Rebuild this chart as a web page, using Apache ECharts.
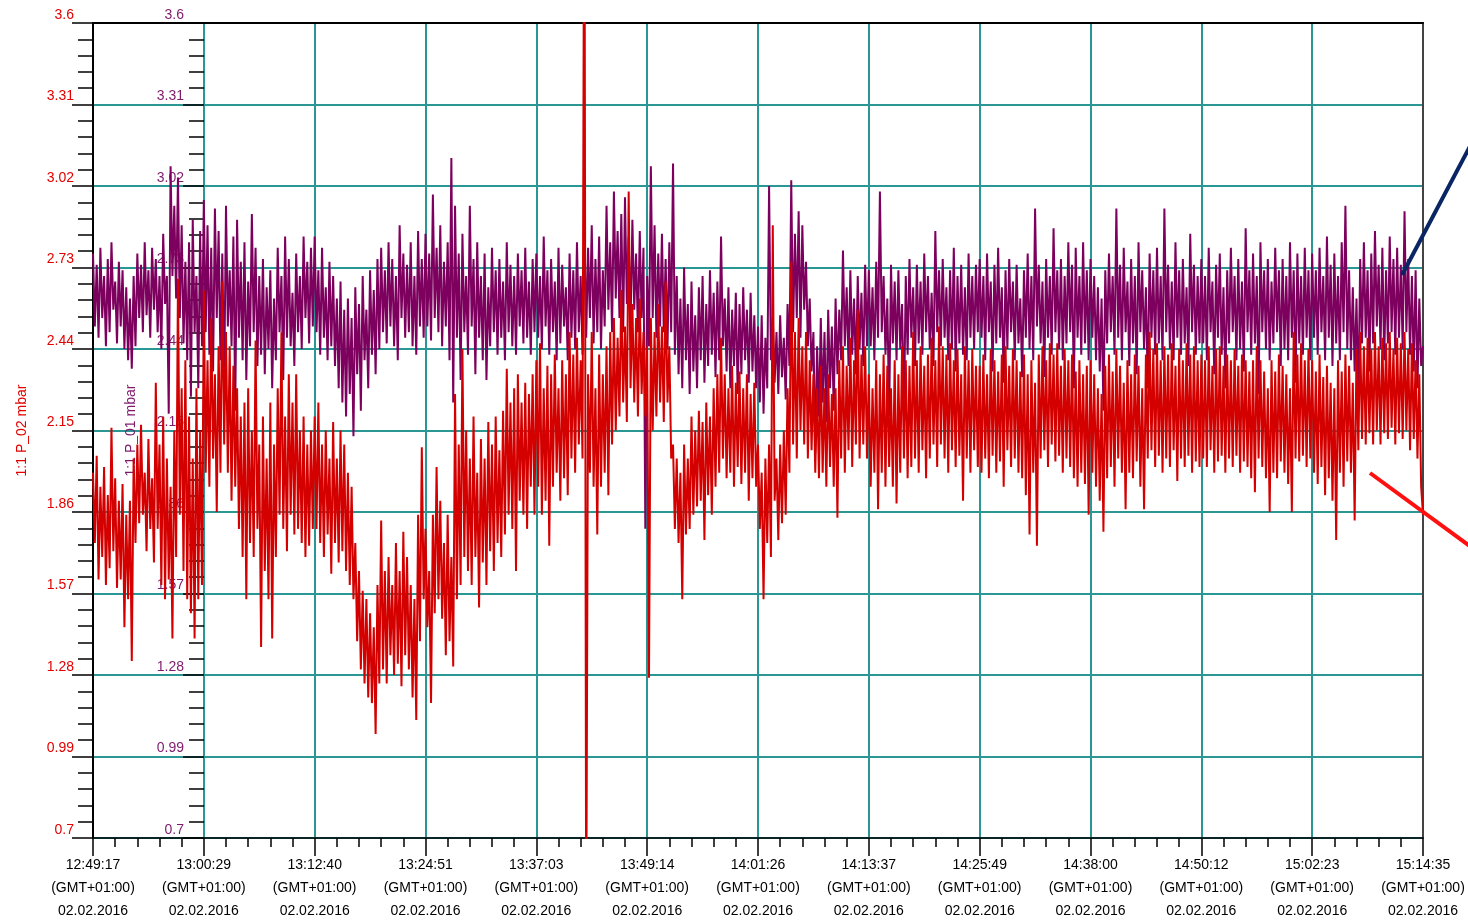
<!DOCTYPE html>
<html>
<head>
<meta charset="utf-8">
<script src="https://cdn.jsdelivr.net/npm/echarts@6/dist/echarts.min.js"></script>
<style>
html,body{margin:0;padding:0;background:#fff;}
#chart{width:1468px;height:923px;}
</style>
</head>
<body>
<div id="chart"></div>
<script>
// x tick labels (one per major tick)
const timeLabels = ["12:49:17","13:00:29","13:12:40","13:24:51","13:37:03","13:49:14","14:01:26","14:13:37","14:25:49","14:38:00","14:50:12","15:02:23","15:14:35"];
const zoneLabel = "(GMT+01:00)";
const dateLabel = "02.02.2016";
const samplesPerTick = 60;

// 1:1 P_01 mbar (purple), 60 samples per labelled interval
const p01 = [
2.78,2.52,2.74,2.48,2.80,2.55,2.70,2.45,2.76,2.50,2.82,2.58,2.68,2.46,2.75,2.52,2.72,2.44,2.66,2.40,2.62,2.37,2.70,2.45,2.78,2.55,2.74,2.50,2.82,2.56,2.72,2.48,2.80,2.58,2.76,2.50,2.70,2.44,2.85,2.60,2.70,2.21,3.09,2.70,2.95,2.62,3.05,2.55,2.88,2.46,2.75,2.40,2.82,2.27,2.90,2.50,2.70,2.30,2.86,2.45,
2.97,2.50,2.88,2.42,2.80,2.36,2.94,2.55,2.86,2.40,2.78,2.30,2.95,2.52,2.72,2.45,2.84,2.22,2.90,2.48,2.75,2.40,2.82,2.33,2.68,2.45,2.92,2.50,2.80,2.38,2.70,2.42,2.76,2.35,2.66,2.44,2.72,2.30,2.62,2.40,2.80,2.50,2.70,2.33,2.84,2.48,2.76,2.45,2.64,2.38,2.78,2.50,2.70,2.44,2.84,2.55,2.75,2.46,2.80,2.52,
2.84,2.50,2.72,2.42,2.80,2.48,2.66,2.40,2.75,2.45,2.70,2.38,2.62,2.30,2.68,2.25,2.58,2.20,2.62,2.28,2.55,2.13,2.66,2.35,2.60,2.22,2.70,2.40,2.58,2.30,2.72,2.42,2.65,2.35,2.76,2.44,2.80,2.50,2.72,2.46,2.82,2.52,2.76,2.45,2.70,2.40,2.88,2.55,2.78,2.48,2.74,2.50,2.82,2.45,2.70,2.42,2.86,2.52,2.76,2.48,
2.85,2.52,2.78,2.47,2.99,2.55,2.80,2.50,2.88,2.45,2.75,2.52,2.82,2.40,3.12,2.25,2.95,2.48,2.78,2.33,2.85,2.50,2.70,2.42,2.95,2.52,2.76,2.35,2.82,2.48,2.70,2.40,2.78,2.33,2.66,2.45,2.80,2.50,2.72,2.42,2.76,2.48,2.68,2.40,2.82,2.50,2.74,2.45,2.70,2.42,2.78,2.52,2.72,2.46,2.80,2.48,2.68,2.42,2.76,2.50,
2.78,2.48,2.70,2.44,2.84,2.52,2.72,2.42,2.76,2.50,2.68,2.40,2.80,2.46,2.74,2.52,2.66,2.40,2.78,2.48,2.72,2.44,2.82,2.50,2.70,2.42,2.90,2.48,2.80,2.55,2.88,2.46,2.76,2.50,2.84,2.44,2.72,2.52,2.95,2.58,2.82,2.50,3.00,2.62,2.86,2.55,2.92,2.50,2.98,2.60,2.84,2.52,2.90,2.58,2.78,2.50,2.86,2.55,2.80,1.80,
2.70,2.45,3.09,2.55,2.88,2.48,2.78,2.52,2.85,2.50,2.76,2.44,2.82,2.50,3.10,2.42,2.70,2.35,2.62,2.30,2.73,2.40,2.60,2.28,2.68,2.36,2.56,2.30,2.66,2.40,2.70,2.32,2.60,2.38,2.72,2.42,2.64,2.34,2.68,2.40,2.84,2.45,2.62,2.36,2.66,2.30,2.58,2.38,2.64,2.28,2.60,2.35,2.66,2.40,2.58,2.32,2.64,2.36,2.56,2.30,
2.52,2.25,2.56,2.21,2.48,2.30,3.02,2.40,2.55,2.32,2.50,2.28,2.56,2.34,2.48,2.26,2.60,2.38,3.04,2.50,2.85,2.55,2.93,2.48,2.88,2.58,2.75,2.45,2.62,2.36,2.50,2.07,2.45,2.20,2.55,2.25,2.50,2.18,2.58,2.30,2.52,2.22,2.62,2.35,2.58,2.40,2.79,2.45,2.66,2.38,2.72,2.42,2.62,2.35,2.70,2.44,2.64,2.38,2.74,2.45,
2.72,2.45,2.66,2.40,2.75,2.48,3.00,2.50,2.70,2.42,2.62,2.20,2.74,2.46,2.68,2.40,2.72,2.44,2.60,2.20,2.70,2.42,2.76,2.48,2.66,2.38,2.74,2.46,2.68,2.42,2.78,2.50,2.70,2.44,2.64,2.38,2.86,2.50,2.72,2.45,2.76,2.48,2.66,2.40,2.72,2.44,2.80,2.36,2.70,2.46,2.74,2.42,2.66,2.40,2.78,2.48,2.70,2.44,2.74,2.50,
2.76,2.48,2.70,2.40,2.78,2.50,2.68,2.36,2.74,2.46,2.80,2.48,2.66,2.32,2.72,2.44,2.76,2.50,2.68,2.40,2.74,2.46,2.62,2.34,2.72,2.48,2.78,2.44,2.70,2.40,2.94,2.52,2.74,2.46,2.68,2.34,2.76,2.48,2.70,2.42,2.87,2.50,2.72,2.44,2.76,2.40,2.70,2.46,2.82,2.50,2.74,2.30,2.80,2.48,2.70,2.42,2.82,2.46,2.72,2.40,
2.76,2.48,2.70,2.40,2.66,2.36,2.62,2.22,2.72,2.46,2.78,2.50,2.70,2.42,2.94,2.48,2.74,2.40,2.80,2.50,2.68,2.38,2.76,2.46,2.70,2.35,2.82,2.50,2.72,2.44,2.66,2.30,2.78,2.48,2.72,2.42,2.80,2.46,2.70,2.40,2.94,2.50,2.74,2.44,2.68,2.40,2.82,2.48,2.72,2.42,2.76,2.46,2.66,2.38,2.85,2.50,2.74,2.42,2.70,2.46,
2.76,2.46,2.70,2.40,2.80,2.50,2.68,2.35,2.74,2.48,2.78,2.42,2.66,2.30,2.72,2.46,2.80,2.50,2.70,2.40,2.76,2.44,2.68,2.36,2.87,2.50,2.72,2.42,2.78,2.46,2.70,2.28,2.82,2.50,2.72,2.44,2.76,2.40,2.68,2.46,2.80,2.50,2.72,2.38,2.76,2.44,2.70,2.40,2.82,2.48,2.72,2.32,2.78,2.46,2.70,2.42,2.80,2.48,2.72,2.40,
2.78,2.48,2.72,2.42,2.80,2.50,2.70,2.40,2.84,2.48,2.74,2.38,2.78,2.46,2.70,2.40,2.82,2.50,2.95,2.44,2.72,2.40,2.66,2.36,2.62,2.25,2.76,2.46,2.82,2.48,2.72,2.36,2.78,2.46,2.86,2.52,2.74,2.44,2.80,2.40,2.72,2.46,2.84,2.50,2.76,2.42,2.80,2.48,2.74,2.44,2.93,2.50,2.76,2.42,2.70,2.36,2.72,2.30,2.62,2.38,
2.45
];

// 1:1 P_02 mbar (red), 60 samples per labelled interval
const p02 = [
2.00,1.75,2.06,1.62,1.95,1.70,2.02,1.60,1.92,1.66,2.16,1.72,1.98,1.59,1.90,1.62,1.96,1.45,1.85,1.55,1.90,1.33,2.05,1.75,2.10,1.82,2.17,1.85,2.00,1.72,2.12,1.80,1.98,1.68,2.32,1.80,2.10,1.60,2.20,1.55,2.05,1.62,1.95,1.41,2.15,1.70,2.69,1.85,2.30,1.65,2.40,1.55,2.20,1.50,2.05,1.41,2.30,1.55,2.15,1.60,
2.65,2.00,2.40,1.95,2.55,2.05,2.35,1.86,2.45,2.00,2.68,2.10,2.50,2.00,2.45,1.90,2.38,1.95,2.30,1.80,2.20,1.70,2.25,1.55,2.30,1.75,2.15,1.70,2.47,1.80,2.10,1.38,2.20,1.65,2.05,1.55,2.25,1.41,2.10,1.70,2.30,1.85,2.50,1.80,2.20,1.72,2.35,1.85,2.25,1.78,2.35,1.80,2.15,1.75,2.20,1.70,2.10,1.74,2.15,1.80,
2.20,1.80,2.25,1.75,2.10,1.70,2.15,1.78,2.05,1.64,2.18,1.75,2.05,1.68,2.15,1.72,2.10,1.65,2.00,1.60,1.95,1.55,1.75,1.40,1.65,1.30,1.58,1.25,1.55,1.20,1.50,1.18,1.45,1.07,1.60,1.25,1.83,1.30,1.65,1.25,1.70,1.35,1.60,1.28,1.75,1.32,1.65,1.24,1.79,1.35,1.70,1.30,1.60,1.20,1.55,1.12,1.85,1.40,2.09,1.55,
1.80,1.45,1.65,1.18,1.85,1.50,2.02,1.55,1.90,1.48,1.75,1.35,1.85,1.40,1.70,1.31,2.28,1.55,2.10,1.60,2.44,1.70,2.15,1.65,2.05,1.60,2.20,1.70,2.00,1.52,2.12,1.68,2.05,1.60,2.18,1.72,2.10,1.65,2.20,1.75,2.08,1.70,2.22,1.78,2.37,1.85,2.25,1.80,2.30,1.65,2.35,1.90,2.25,1.85,2.32,1.80,2.28,1.95,2.35,1.85,
2.40,1.95,2.46,1.85,2.30,1.90,2.38,1.74,2.35,1.95,2.42,2.00,2.30,1.90,2.40,1.98,2.35,1.92,2.50,2.05,2.42,2.00,2.48,2.10,2.40,2.05,4.50,0.30,2.35,2.00,2.50,1.95,2.30,1.78,2.42,1.95,2.35,2.00,2.45,1.92,2.50,2.10,2.55,2.15,2.48,2.20,2.65,2.25,2.52,2.18,3.00,2.30,2.60,2.25,2.55,2.20,2.62,2.28,2.50,2.20,
2.45,1.27,2.55,2.15,2.50,2.20,2.60,2.25,2.52,2.18,2.68,2.25,2.45,2.05,2.10,1.80,2.05,1.75,2.00,1.55,2.10,1.78,2.05,1.80,2.20,1.85,2.15,1.88,2.22,1.90,2.18,1.76,2.25,1.92,2.20,1.85,2.30,1.95,2.35,2.00,2.48,2.05,2.35,1.98,2.30,2.00,2.38,1.95,2.32,2.02,2.36,1.96,2.30,2.00,2.35,1.90,2.28,1.98,2.32,1.95,
2.10,1.80,2.00,1.55,2.05,1.75,2.10,1.70,2.88,1.90,2.05,1.76,2.10,1.82,2.15,1.85,2.30,2.00,2.75,2.10,2.50,2.05,2.55,2.15,2.45,2.10,2.50,2.05,2.40,2.08,2.35,2.00,2.30,1.98,2.38,2.00,2.30,1.95,2.35,2.02,2.28,1.95,2.30,1.84,2.40,2.05,2.45,2.00,2.38,2.08,2.48,2.02,2.40,2.10,2.58,2.05,2.42,2.10,2.45,2.05,
2.35,1.95,2.30,2.00,2.40,1.87,2.35,2.00,2.42,1.95,2.38,2.02,2.30,1.95,2.40,1.89,2.35,2.00,2.45,2.05,2.40,1.98,2.38,2.02,2.50,2.05,2.40,2.00,2.45,2.08,2.38,1.98,2.42,2.05,2.48,2.10,2.40,2.02,2.52,2.10,2.45,2.05,2.42,2.00,2.46,2.08,2.40,2.02,2.44,2.06,2.35,1.90,2.45,2.05,2.40,2.00,2.44,2.08,2.38,2.02,
2.38,2.00,2.42,2.05,2.35,1.98,2.44,2.06,2.40,2.00,2.36,2.04,2.42,1.95,2.45,2.08,2.38,2.02,2.44,2.05,2.40,2.00,2.36,1.98,2.42,1.92,2.35,1.78,2.40,2.00,2.32,1.74,2.42,2.05,2.45,2.08,2.40,2.02,2.46,2.10,2.42,2.04,2.46,2.06,2.38,2.00,2.44,2.05,2.40,2.02,2.42,1.98,2.36,1.95,2.40,2.00,2.35,1.96,2.38,1.85,
2.40,2.00,2.35,1.95,2.30,1.90,2.28,1.79,2.38,1.98,2.42,2.02,2.36,1.95,2.44,2.05,2.38,2.00,2.32,1.87,2.40,2.00,2.35,1.98,2.42,2.04,2.38,1.95,2.30,1.87,2.42,2.05,2.50,2.08,2.44,2.02,2.46,2.06,2.40,2.00,2.45,2.05,2.42,2.02,2.46,2.08,2.38,1.97,2.44,2.05,2.40,2.02,2.46,2.06,2.42,2.00,2.45,2.04,2.40,2.02,
2.42,2.05,2.40,2.02,2.45,2.08,2.38,2.00,2.44,2.04,2.45,2.06,2.38,2.00,2.42,2.05,2.40,2.02,2.44,2.06,2.38,2.00,2.42,2.04,2.40,2.02,2.36,1.98,2.40,1.93,2.45,2.05,2.40,2.02,2.36,1.98,2.30,1.86,2.40,2.00,2.36,1.98,2.42,2.04,2.38,2.00,2.35,1.96,2.30,1.86,2.50,2.05,2.42,2.04,2.46,2.06,2.40,2.02,2.44,2.05,
2.40,2.00,2.36,1.96,2.42,2.02,2.34,1.92,2.38,1.98,2.32,1.90,2.30,1.76,2.40,2.00,2.36,1.95,2.42,2.04,2.38,2.00,2.32,1.83,2.44,2.08,2.50,2.12,2.45,2.10,2.48,2.14,2.44,2.10,2.50,2.15,2.45,2.10,2.48,2.14,2.46,2.12,2.50,2.16,2.44,2.10,2.48,2.14,2.46,2.12,2.50,2.15,2.44,2.08,2.46,2.12,2.40,2.05,2.35,1.95,
1.85
];

const yMin = 0.7, yMax = 3.6, yStep = 0.29;

const toXY = arr => arr.map((v, i) => [i / samplesPerTick, v]);

const RED = '#d40000';
const PURPLE = '#7d005e';
const TEAL = '#2b9794';
const LABEL_RED = '#e30000';
const LABEL_PURPLE = '#7e1a6c';
const FONT = 'Liberation Sans, Arial, sans-serif';

const chart = echarts.init(document.getElementById('chart'), null, {renderer: 'canvas'});
chart.setOption({
  animation: false,
  backgroundColor: '#ffffff',
  grid: {left: 93, right: 45, top: 23, bottom: 84, containLabel: false},
  xAxis: [{
    type: 'value', min: 0, max: timeLabels.length - 1, interval: 1,
    position: 'bottom',
    axisLine: {show: true, onZero: false, lineStyle: {color: '#000', width: 1.5}},
    axisTick: {show: true, length: 18, lineStyle: {color: '#000', width: 1.5}},
    minorTick: {show: true, splitNumber: 5, length: 9, lineStyle: {color: '#000', width: 1.5}},
    axisLabel: {
      margin: 16, color: '#000', fontFamily: FONT, fontSize: 14, lineHeight: 23,
      formatter: v => timeLabels[Math.round(v)] + '\n' + zoneLabel + '\n' + dateLabel
    },
    splitLine: {show: true, lineStyle: {color: TEAL, width: 2}}
  }, {
    type: 'value', min: 0, max: timeLabels.length - 1, position: 'top',
    axisLine: {show: true, onZero: false, lineStyle: {color: '#000', width: 2}},
    axisTick: {show: false}, axisLabel: {show: false}, splitLine: {show: false}
  }],
  yAxis: [{
    type: 'value', min: yMin, max: yMax, interval: yStep, position: 'left',
    name: '1:1 P_02 mbar', nameLocation: 'middle', nameGap: 64,
    nameTextStyle: {color: LABEL_RED, fontFamily: FONT, fontSize: 14},
    axisLine: {show: true, onZero: false, lineStyle: {color: '#000', width: 2}},
    axisTick: {show: true, length: 21, lineStyle: {color: '#000', width: 1.5}},
    minorTick: {show: true, splitNumber: 5, length: 15, lineStyle: {color: '#000', width: 1.5}},
    axisLabel: {margin: 19, color: LABEL_RED, fontFamily: FONT, fontSize: 14, verticalAlign: 'bottom', lineHeight: 16},
    splitLine: {show: true, lineStyle: {color: TEAL, width: 2}}
  }, {
    type: 'value', min: yMin, max: yMax, interval: yStep, position: 'left', offset: -111,
    name: '1:1 P_01 mbar', nameLocation: 'middle', nameGap: 66,
    nameTextStyle: {color: LABEL_PURPLE, fontFamily: FONT, fontSize: 14},
    axisLine: {show: false},
    axisTick: {show: true, length: 21, lineStyle: {color: '#000', width: 1.5}},
    minorTick: {show: true, splitNumber: 5, length: 15, lineStyle: {color: '#000', width: 1.5}},
    axisLabel: {margin: 20, color: LABEL_PURPLE, fontFamily: FONT, fontSize: 14, verticalAlign: 'bottom', lineHeight: 16},
    splitLine: {show: false}
  }, {
    type: 'value', min: yMin, max: yMax, position: 'right',
    axisLine: {show: true, onZero: false, lineStyle: {color: '#444', width: 2}},
    axisTick: {show: false}, axisLabel: {show: false}, splitLine: {show: false}
  }],
  series: [{
    name: '1:1 P_01 mbar', type: 'line', xAxisIndex: 0, yAxisIndex: 1,
    data: toXY(p01), showSymbol: false, symbol: 'none', clip: true,
    lineStyle: {color: PURPLE, width: 2}, z: 3
  }, {
    name: '1:1 P_02 mbar', type: 'line', xAxisIndex: 0, yAxisIndex: 0,
    data: toXY(p02), showSymbol: false, symbol: 'none', clip: true,
    lineStyle: {color: RED, width: 2}, z: 4
  }],
  graphic: [{
    type: 'line', shape: {x1: 1402, y1: 275, x2: 1478, y2: 131},
    style: {stroke: '#0a2563', lineWidth: 4}, z: 10
  }, {
    type: 'line', shape: {x1: 1370, y1: 473, x2: 1478, y2: 552},
    style: {stroke: '#ff1010', lineWidth: 4}, z: 10
  }]
});
</script>
</body>
</html>
